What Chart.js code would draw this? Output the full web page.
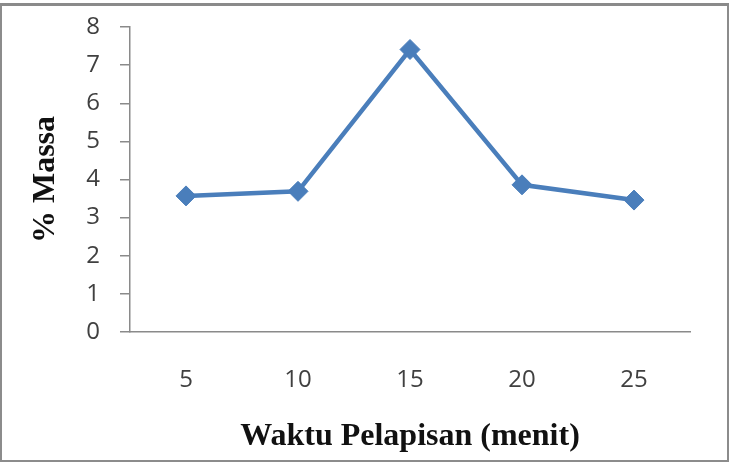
<!DOCTYPE html>
<html>
<head>
<meta charset="utf-8">
<script src="https://cdn.jsdelivr.net/npm/chart.js@4"></script>
<style>
  html, body { margin: 0; padding: 0; background: #fff; }
  #wrap { position: relative; width: 734px; height: 462px; overflow: hidden; }
  #frame { position: absolute; left: 0px; top: 3px; width: 725px; height: 454px; border: 2px solid #8c8c8c; border-top: 3px solid #8a8a8a; }
  canvas { position: absolute; left: 0; top: 0; }
</style>
</head>
<body>
<div id="wrap">
  <div id="frame"></div>
  <canvas id="chart" width="734" height="462"></canvas>
</div>
<script>
const waktu = ['5', '10', '15', '20', '25'];
const massa = [3.57, 3.69, 7.41, 3.86, 3.46];
const yTicks = [0, 1, 2, 3, 4, 5, 6, 7, 8];

const blue = '#4a7ebb';
const axisGrey = '#8a8a8a';
const tickFont = { family: '"Open Sans", sans-serif', size: 24 };
const titleFont = { family: '"Liberation Serif", serif', size: 32, weight: 'bold' };

const ctx = document.getElementById('chart').getContext('2d');
const chart = new Chart(ctx, {
    type: 'line',
    data: {
        labels: waktu,
        datasets: [{
            data: massa,
            borderColor: blue,
            backgroundColor: blue,
            borderWidth: 4.5,
            pointStyle: 'rectRot',
            pointRadius: 10,
            pointBorderWidth: 1,
            pointBackgroundColor: blue,
            pointBorderColor: blue,
            tension: 0,
            fill: false
        }]
    },
    options: {
        responsive: false,
        animation: false,
        layout: { padding: { top: 27, right: 44, bottom: 0, left: 0 } },
        plugins: {
            legend: { display: false },
            tooltip: { enabled: false }
        },
        scales: {
            x: {
                offset: true,
                grid: { display: false, drawTicks: false },
                border: { display: true, color: axisGrey, width: 1.5 },
                ticks: { font: tickFont, color: '#404040', padding: 34 },
                title: {
                    display: true,
                    text: 'Waktu Pelapisan (menit)',
                    font: titleFont,
                    color: '#111',
                    padding: { top: 0, bottom: 6 }
                },
                afterFit: function (scale) { scale.height = 130; }
            },
            y: {
                min: 0,
                max: 8,
                afterBuildTicks: function (scale) {
                    scale.ticks = yTicks.map(v => ({ value: v }));
                },
                grid: { display: true, drawOnChartArea: false, drawTicks: true, tickLength: 10, color: axisGrey, lineWidth: 1.5 },
                border: { display: true, color: axisGrey, width: 1.5 },
                ticks: { font: tickFont, color: '#404040', padding: 20 },
                title: {
                    display: true,
                    text: '% Massa',
                    font: titleFont,
                    color: '#111',
                    padding: { top: 27, bottom: 0 }
                },
                afterFit: function (scale) {
                    scale.width = 130;
                    scale.paddingTop = 0;
                    scale.paddingBottom = 0;
                }
            }
        }
    }
});
</script>
</body>
</html>
